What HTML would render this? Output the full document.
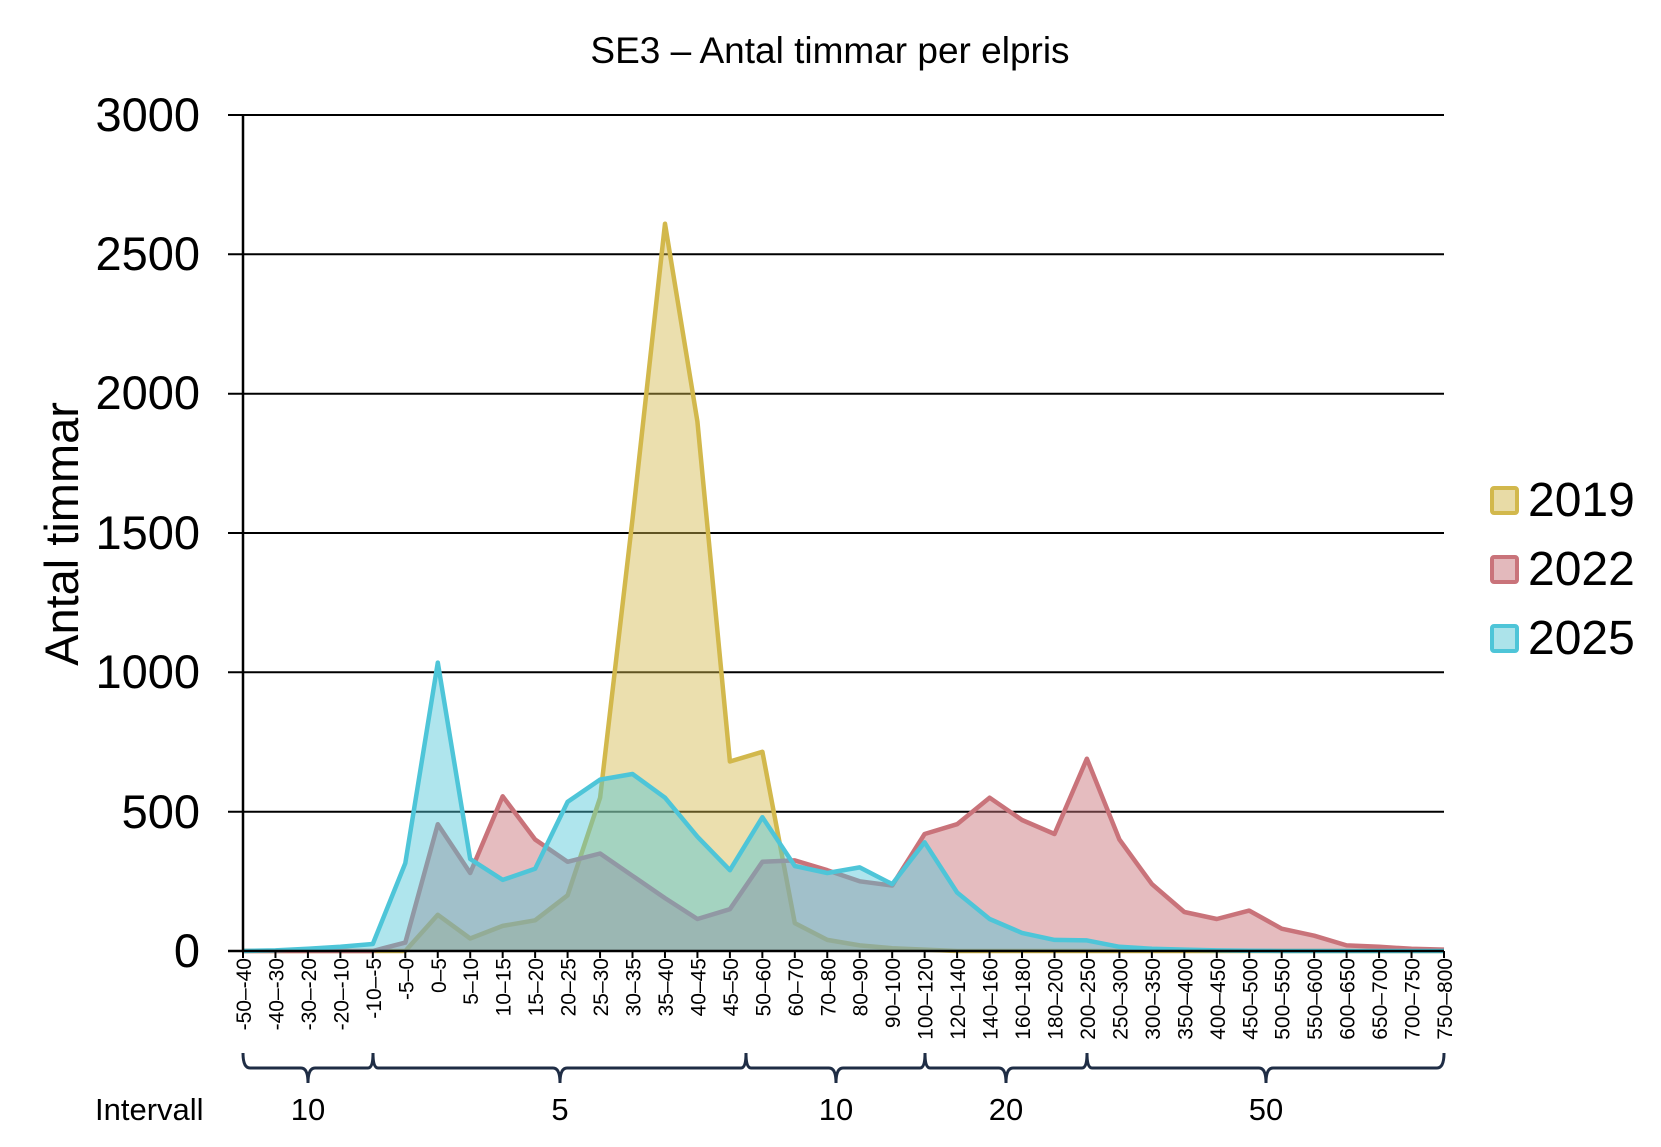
<!DOCTYPE html>
<html><head><meta charset="utf-8"><style>
html,body{margin:0;padding:0;background:#fff}
svg{display:block}
text{font-family:"Liberation Sans",Arial,sans-serif;fill:#000}
</style></head><body>
<svg id="s" width="1661" height="1147" viewBox="0 0 1661 1147" xmlns="http://www.w3.org/2000/svg">
<text x="830" y="63" font-size="37" text-anchor="middle">SE3 – Antal timmar per elpris</text>
<g stroke="#000" stroke-width="2">
<line x1="228" y1="115" x2="1444" y2="115"/>
<line x1="228" y1="254.3" x2="1444" y2="254.3"/>
<line x1="228" y1="393.7" x2="1444" y2="393.7"/>
<line x1="228" y1="533" x2="1444" y2="533"/>
<line x1="228" y1="672.3" x2="1444" y2="672.3"/>
<line x1="228" y1="811.7" x2="1444" y2="811.7"/>
</g>
<g font-size="47" text-anchor="end">
<text x="200" y="131">3000</text>
<text x="200" y="270">2500</text>
<text x="200" y="409">2000</text>
<text x="200" y="549">1500</text>
<text x="200" y="688">1000</text>
<text x="200" y="828">500</text>
<text x="200" y="967">0</text>
</g>
<text transform="translate(78,534) rotate(-90)" font-size="47" text-anchor="middle">Antal timmar</text>
<g id="series"></g>
<line x1="243" y1="115" x2="243" y2="951" stroke="#000" stroke-width="2.5"/>
<line x1="228" y1="951" x2="1444" y2="951" stroke="#000" stroke-width="2.5"/>
<g id="ticks" stroke="#000" stroke-width="2"></g>
<g font-size="21" text-anchor="end">
<text transform="translate(251,958) rotate(-90)">-50–-40</text>
<text transform="translate(283.5,958) rotate(-90)">-40–-30</text>
<text transform="translate(315.9,958) rotate(-90)">-30–-20</text>
<text transform="translate(348.4,958) rotate(-90)">-20–-10</text>
<text transform="translate(380.8,958) rotate(-90)">-10–-5</text>
<text transform="translate(413.3,958) rotate(-90)">-5–0</text>
<text transform="translate(445.8,958) rotate(-90)">0–5</text>
<text transform="translate(478.2,958) rotate(-90)">5–10</text>
<text transform="translate(510.7,958) rotate(-90)">10–15</text>
<text transform="translate(543.1,958) rotate(-90)">15–20</text>
<text transform="translate(575.6,958) rotate(-90)">20–25</text>
<text transform="translate(608.1,958) rotate(-90)">25–30</text>
<text transform="translate(640.5,958) rotate(-90)">30–35</text>
<text transform="translate(673,958) rotate(-90)">35–40</text>
<text transform="translate(705.4,958) rotate(-90)">40–45</text>
<text transform="translate(737.9,958) rotate(-90)">45–50</text>
<text transform="translate(770.4,958) rotate(-90)">50–60</text>
<text transform="translate(802.8,958) rotate(-90)">60–70</text>
<text transform="translate(835.3,958) rotate(-90)">70–80</text>
<text transform="translate(867.7,958) rotate(-90)">80–90</text>
<text transform="translate(900.2,958) rotate(-90)">90–100</text>
<text transform="translate(932.7,958) rotate(-90)">100–120</text>
<text transform="translate(965.1,958) rotate(-90)">120–140</text>
<text transform="translate(997.6,958) rotate(-90)">140–160</text>
<text transform="translate(1030,958) rotate(-90)">160–180</text>
<text transform="translate(1062.5,958) rotate(-90)">180–200</text>
<text transform="translate(1095,958) rotate(-90)">200–250</text>
<text transform="translate(1127.4,958) rotate(-90)">250–300</text>
<text transform="translate(1159.9,958) rotate(-90)">300–350</text>
<text transform="translate(1192.3,958) rotate(-90)">350–400</text>
<text transform="translate(1224.8,958) rotate(-90)">400–450</text>
<text transform="translate(1257.3,958) rotate(-90)">450–500</text>
<text transform="translate(1289.7,958) rotate(-90)">500–550</text>
<text transform="translate(1322.2,958) rotate(-90)">550–600</text>
<text transform="translate(1354.6,958) rotate(-90)">600–650</text>
<text transform="translate(1387.1,958) rotate(-90)">650–700</text>
<text transform="translate(1419.6,958) rotate(-90)">700–750</text>
<text transform="translate(1452,958) rotate(-90)">750–800</text>
</g>
<path d="M243,1053 Q243,1068 250,1068 L301,1068 Q308,1068 308,1083 Q308,1068 315,1068 L368,1068 Q373,1068 373,1053 Q373,1068 378,1068 L553,1068 Q560,1068 560,1083 Q560,1068 567,1068 L741,1068 Q746,1068 746,1053 Q746,1068 751,1068 L829,1068 Q836,1068 836,1083 Q836,1068 843,1068 L920,1068 Q925,1068 925,1053 Q925,1068 930,1068 L999,1068 Q1006,1068 1006,1083 Q1006,1068 1013,1068 L1082,1068 Q1087,1068 1087,1053 Q1087,1068 1092,1068 L1259,1068 Q1266,1068 1266,1083 Q1266,1068 1273,1068 L1437,1068 Q1444,1068 1444,1053" fill="none" stroke="#1f2d45" stroke-width="3"/>
<g font-size="31">
<text x="95" y="1120">Intervall</text>
<text x="308" y="1120" text-anchor="middle">10</text>
<text x="560" y="1120" text-anchor="middle">5</text>
<text x="836" y="1120" text-anchor="middle">10</text>
<text x="1006" y="1120" text-anchor="middle">20</text>
<text x="1266" y="1120" text-anchor="middle">50</text>
</g>
<rect x="1492" y="488" width="25" height="25" rx="2" fill="#e8dba6" stroke="#d2b84c" stroke-width="4"/>
<rect x="1492" y="557" width="25" height="25" rx="2" fill="#e3b9bc" stroke="#c9737a" stroke-width="4"/>
<rect x="1492" y="626" width="25" height="25" rx="2" fill="#ace3ea" stroke="#4ec5d8" stroke-width="4"/>
<g font-size="48">
<text x="1528" y="516">2019</text>
<text x="1528" y="585">2022</text>
<text x="1528" y="654">2025</text>
</g>
</svg>
<script>
(function(){
var NS="http://www.w3.org/2000/svg";
var X=function(i){return 243+i*(1201/37);};
var Y=function(v){return 951-v*836/3000;};
var d19=[0,0,0,0,0,0,130,45,90,110,200,550,1550,2610,1900,680,715,100,40,20,10,5,0,0,0,0,0,0,0,0,0,0,0,0,0,0,0,0];
var d22=[0,0,0,0,0,30,455,280,555,400,320,350,270,190,115,150,320,325,290,250,235,420,455,550,470,420,690,400,240,140,115,145,80,55,20,15,8,5];
var d25=[0,2,8,15,25,315,1035,330,255,295,535,615,635,550,410,290,480,305,280,300,240,390,210,115,65,40,38,15,8,5,2,1,0,0,0,0,0,0];
var g=document.getElementById("series");
function add(d,fill,op,stroke){
 var pts=d.map(function(v,i){return X(i).toFixed(1)+","+Y(v).toFixed(1);});
 var p=document.createElementNS(NS,"polygon");
 p.setAttribute("points",X(0)+",951 "+pts.join(" ")+" "+X(37)+",951");
 p.setAttribute("fill",fill);p.setAttribute("fill-opacity",op);g.appendChild(p);
 var l=document.createElementNS(NS,"polyline");
 l.setAttribute("points",pts.join(" "));l.setAttribute("fill","none");
 l.setAttribute("stroke",stroke);l.setAttribute("stroke-width","4.5");l.setAttribute("stroke-linejoin","round");
 g.appendChild(l);
}
add(d19,"#d2b84c","0.45","#d2b84c");
add(d22,"#c9737a","0.48","#c9737a");
add(d25,"#4ec5d8","0.45","#4ec5d8");
var t=document.getElementById("ticks");
for(var i=0;i<38;i++){var l=document.createElementNS(NS,"line");l.setAttribute("x1",X(i));l.setAttribute("x2",X(i));l.setAttribute("y1",951);l.setAttribute("y2",958);t.appendChild(l);}
})();
</script>
</body></html>
